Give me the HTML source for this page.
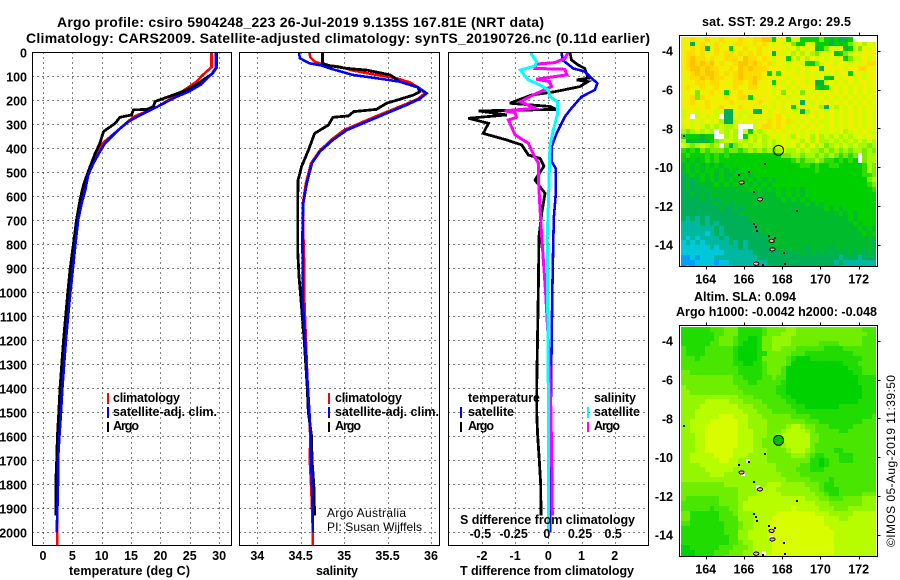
<!DOCTYPE html>
<html>
<head>
<meta charset="utf-8">
<title>Argo profile chart</title>
<style>
html,body{margin:0;padding:0;background:#fff;}
svg{display:block;font-family:"Liberation Sans",sans-serif;}
.b{font-weight:bold;font-size:12.5px;fill:#000;}
.t{font-weight:bold;font-size:14px;fill:#000;}
.r{font-weight:normal;font-size:12px;fill:#000;}
</style>
</head>
<body>
<svg id="chart" xmlns="http://www.w3.org/2000/svg" width="900" height="580" viewBox="0 0 900 580">
<defs>
<clipPath id="clipSst"><rect x="681" y="36.5" width="195" height="229.5"/></clipPath>
<clipPath id="clipAlt"><rect x="681" y="326.5" width="195" height="229.5"/></clipPath>
</defs>
<text class="t" x="57" y="27" textLength="487" lengthAdjust="spacing">Argo profile: csiro 5904248_223 26-Jul-2019 9.135S 167.81E (NRT data)</text>
<text class="t" x="26" y="43" textLength="624" lengthAdjust="spacing">Climatology: CARS2009. Satellite-adjusted climatology: synTS_20190726.nc (0.11d earlier)</text>

<g id="grids"></g>
<g id="marks"></g>
<g id="frames"></g>
<g id="labels"></g>

<text class="b" x="69" y="575" textLength="121" lengthAdjust="spacing">temperature (deg C)</text>
<text class="b" x="316" y="575" textLength="42" lengthAdjust="spacing">salinity</text>
<text class="b" x="460" y="575" textLength="174" lengthAdjust="spacing">T difference from climatology</text>
<text class="b" x="460" y="524" textLength="175" lengthAdjust="spacing">S difference from climatology</text>

<g>
<rect x="107" y="393" width="2" height="11" fill="#f00"/>
<rect x="107" y="407" width="2" height="11" fill="#00f"/>
<rect x="107" y="422" width="2" height="10" fill="#000"/>
<text class="b" x="113" y="402" textLength="67" lengthAdjust="spacing">climatology</text>
<text class="b" x="113" y="416" textLength="104" lengthAdjust="spacing">satellite-adj. clim.</text>
<text class="b" x="113" y="430" textLength="26" lengthAdjust="spacing">Argo</text>
</g>
<g>
<rect x="328" y="393" width="2" height="11" fill="#f00"/>
<rect x="328" y="407" width="2" height="11" fill="#00f"/>
<rect x="328" y="422" width="2" height="10" fill="#000"/>
<text class="b" x="335" y="402" textLength="67" lengthAdjust="spacing">climatology</text>
<text class="b" x="335" y="416" textLength="104" lengthAdjust="spacing">satellite-adj. clim.</text>
<text class="b" x="335" y="430" textLength="26" lengthAdjust="spacing">Argo</text>
<text class="r" x="327" y="517" textLength="79" lengthAdjust="spacing">Argo Australia</text>
<text class="r" x="327" y="531" textLength="95" lengthAdjust="spacing">PI: Susan Wijffels</text>
</g>
<g>
<text class="b" x="468" y="402" textLength="72" lengthAdjust="spacing">temperature</text>
<rect x="460" y="407" width="2" height="11" fill="#00f"/>
<text class="b" x="468" y="416" textLength="46" lengthAdjust="spacing">satellite</text>
<rect x="460" y="422" width="2" height="10" fill="#000"/>
<text class="b" x="468" y="430" textLength="26" lengthAdjust="spacing">Argo</text>
<text class="b" x="594" y="402" textLength="42" lengthAdjust="spacing">salinity</text>
<rect x="587" y="407" width="2" height="11" fill="#0ff"/>
<text class="b" x="594" y="416" textLength="46" lengthAdjust="spacing">satellite</text>
<rect x="587" y="422" width="2" height="10" fill="#f0f"/>
<text class="b" x="594" y="430" textLength="26" lengthAdjust="spacing">Argo</text>
</g>

<g id="sstMap" clip-path="url(#clipSst)"></g>
<g id="altMap" clip-path="url(#clipAlt)"></g>
<g id="mapFrames"></g>
<text class="b" x="702" y="26" textLength="149" lengthAdjust="spacing">sat. SST: 29.2 Argo: 29.5</text>
<text class="b" x="694" y="301" textLength="102" lengthAdjust="spacing">Altim. SLA: 0.094</text>
<text class="b" x="676" y="316" textLength="201" lengthAdjust="spacing">Argo h1000: -0.0042 h2000: -0.048</text>
<text class="r" transform="translate(895,547) rotate(-90)" textLength="172" lengthAdjust="spacing">©IMOS 05-Aug-2019 11:39:50</text>
</svg>
<script>
/* ---- profile data ---- */
const depthTicks = [0,100,200,300,400,500,600,700,800,900,1000,1100,1200,1300,1400,1500,1600,1700,1800,1900,2000];
const tempTicks = [0,5,10,15,20,25,30];
const salTicks = [34,34.5,35,35.5,36];
const salTickLabels = ['34','34.5','35','35.5','36'];
const tDiffTicks = [-2,-1,0,1,2];
const sDiffTicks = [-0.5,-0.25,0,0.25,0.5];
const sDiffTickLabels = ['-0.5','-0.25','0','0.25','0.5'];

const tempClimDepth = [0,62,99,122,150,178,228,269,318,378,414,462,520,574,629,698,781,879,1000,1200,1400,1500,1700,1800,2000,2054];
const tempClimVal = [28.7,28.7,27,26.2,24.5,22.8,19.4,15.4,13.1,10.2,9.5,8.5,7.6,7.1,6.5,5.95,5.5,5.1,4.6,3.85,3.2,3,2.55,2.5,2.4,2.4];
const tempSatDepth = [0,67,90,136,164,185,206,228,248,269,290,318,351,378,414,462,510,574,629,698,781,879,990,1200,1400,1500,1600,1700,1800,1900,2000];
const tempSatVal = [29.4,29.4,28.75,26.8,24.8,22.8,21.1,19.4,17.7,16,14.5,13.1,11.7,10.6,9.7,8.6,7.7,7.2,6.6,6,5.6,5.2,4.7,3.9,3.3,3.07,2.8,2.56,2.55,2.45,2.33];
const tempArgoDepth = [0,62,90,130,157,178,205,226,238,240,261,271,296,330,379,421,497,553,615,699,796,907,1004,1200,1400,1500,1600,1700,1800,1929];
const tempArgoVal = [29.6,29.6,28.8,26.4,24.5,22.2,19.1,18.8,17.7,15.4,15.1,13.1,12.3,10.3,9.7,8.9,7.7,6.9,6.3,5.7,5.2,4.6,4.2,3.5,2.9,2.7,2.45,2.33,2.16,2.16];

const salClimDepth = [0,21,39,53,60,76,94,108,126,150,171,194,219,254,289,324,365,414,462,546,629,754,893,1018,1200,1400,1600,1700,1800,2000,2054];
const salClimVal = [34.6,34.61,34.66,34.78,34.95,35.1,35.37,35.6,35.76,35.87,35.93,35.85,35.69,35.45,35.22,35,34.85,34.71,34.62,34.56,34.525,34.53,34.54,34.54,34.56,34.58,34.61,34.605,34.62,34.64,34.64];
const salSatDepth = [0,25,46,55,71,94,108,122,146,171,194,219,254,289,324,365,414,462,546,629,754,893,1018,1200,1400,1500,1600,1700,1800,1900,2000];
const salSatVal = [34.48,34.49,34.6,34.74,34.87,35.1,35.37,35.64,35.85,35.95,35.87,35.72,35.49,35.26,35.03,34.87,34.72,34.63,34.57,34.53,34.52,34.522,34.522,34.55,34.583,34.6,34.615,34.62,34.63,34.637,34.637];
const salArgoDepth = [0,46,55,67,74,94,122,146,164,178,196,212,238,247,265,271,303,338,407,476,532,615,824,935,1018,1200,1400,1500,1600,1700,1800,1930];
const salArgoVal = [34.75,34.75,34.82,35.03,35.26,35.53,35.64,35.85,35.87,35.8,35.64,35.49,35.37,35.11,35.05,34.87,34.82,34.66,34.59,34.51,34.47,34.465,34.465,34.48,34.5,34.54,34.576,34.587,34.625,34.63,34.65,34.66];

const tDiffSatDepth = [0,32,67,80,108,129,157,185,233,268,338,393,456,483,601,685,782,1000,1400,2000];
const tDiffSatVal = [0.4,0.43,0.75,1.1,1.3,1.48,1.4,1,0.7,0.5,0.25,0.1,0.1,0.22,0.22,0.17,0.15,0.12,0.08,0.06];
const tDiffArgoDepth = [0,32,53,67,88,108,115,122,143,164,178,212,226,238,244,261,275,296,338,365,386,428,442,474,532,588,671,768,1000,1400,1500,1600,1700,1800,1930];
const tDiffArgoVal = [0.65,0.7,0.9,1.1,1.15,1.2,0.85,1.2,0.95,0.2,-0.5,-1.16,0.05,0.25,-2.1,-1.25,-2.41,-1.8,-1.96,-1.26,-0.8,-0.6,-0.25,-0.13,-0.4,-0.1,-0.2,-0.28,-0.3,-0.35,-0.35,-0.32,-0.27,-0.23,-0.22];
const sDiffArgoDepth = [0,25,43,49,67,71,94,112,122,143,164,185,206,233,244,251,271,282,344,379,428,462,518,643,768,1000,1200,1500,1800,1930];
const sDiffArgoVal = [0.15,0.125,0.05,-0.09,-0.1,0.125,0.14,-0.09,0.01,0.025,-0.06,-0.14,-0.21,-0.1,-0.33,-0.25,-0.24,-0.3,-0.25,-0.15,-0.11,-0.075,-0.075,-0.063,-0.05,-0.02,0,0.02,0.028,0.03];
const sDiffSatDepth = [0,10,39,57,74,115,136,157,185,206,261,324,393,476,643,768,1000,1400,2000];
const sDiffSatVal = [-0.125,-0.125,-0.088,-0.1,-0.21,-0.15,-0.063,0,0.012,0.068,0.068,0.038,0.012,0.008,0,-0.008,-0.005,0,0];

/* ---- map data: colour-level per 0.25 degree cell, '.' = no data ---- */
const mapLonTicks = [164,166,168,170,172];
const mapLatTicks = [-4,-6,-8,-10,-12,-14];
const profileLon = [167.81];
const profileLat = [-9.135];
const sstLevelColors = ['#00a0f8','#00c8d8','#00b8a0','#00b058','#00bc2c','#00d000','#30dc00','#78ec00','#a8f800','#d0fc00','#f0f000','#ffdc00','#ffc400'];
const altLevelColors = ['#00c800','#00d200','#20dc00','#48e600','#70ee00','#94f600','#b8fc00','#d8fc00'];
const sstRows = [
"aabaabaabaaabaabbcc5aa5a955557545345.....",
"aa3abaabaaabbaababa9a9a755a9555354579a8a9",
"aabab3abaa5aabaabaaaaa9a8a9a457a9a4597a9a",
"abbabaababbab9babaa3a9a8a8a87a9a4579a9aaa",
"abcbbabaabbbacbbaba9aa5a8a8a9a9a9a5799a9a",
"abcbcbcabaabccbcbab9aa9aa95579aa9aa9a9abb",
"abccbcbbaabacbcbbbaaaa9a9a9aa3aaaa9aabbaa",
"aabcbccbababcbbbba5a6aaa9a9a9a9a9aa5aa9aa",
"aabbcbcbbaabcbbcbaaaaa9aaa9a9a54a9aa9a9aa",
"aaabbabbaaabbabcaaa5a9a9aa9a349a9a9a9aa9a",
"abaabaabaaabaabbaaa9aa9a9aaa5459a9a9a9a9a",
"aaa7aabaa5aabaaaaaa9a7a9a7a9a9a9a9a9a9a9a",
"aab7baaaabaabb5aaaaa9a9a9a9a9a9a9a9a9a9a9",
"aabaabaaaabaaaaabaa9a9a9a3a9a9a9a9a9a9a9a",
"aaaaabaabaaabaa9a9a9a9a59aa9a83a8a9a9a9a9",
"9aa9aaa9a33a99a33a9aa9a9938a9a9a9a9a9a9a9",
"9a.9a9a9.33a9a9a9a9aba9a9a9a9a9a9a9a9a9a9",
"aa9a9a9a8339a9a9aababab9a9a9a99a9a9a9a9a9",
"9a9a98989889...9abbaba9a9a9a9a9a9a9a9a9a9",
"8789898.9898.95989a9a9a9a9a9a99a9a89a9a99",
"6555455..898.598989a9a98a9a8a89898989a9a9",
"8344345789989898a8989a9a98a8a889898989898",
"98789878.737898998989a9a8a8a89789898988788",
"65657677767767878787898898988787878788787",
"5655565656555555555557788788787876767.788",
"5454565655555555555555567677876656565.788",
"45454545455555555555555556656556655555687",
"45454554545455555555555555556555555555687",
"34545454544545455555555555555555555555667",
"34345454545454545454555555555555555555578",
"34344445454545454545555555555555555555567",
"34343444444444545454545454555555555555556",
"33434344444444444444545454555555555555555",
"33334343444444444444454545455555555555555",
"33333334343444444444444444545455555555555",
"33333333433434444444444444444454545555555",
"33333333333344444444444444444444454545555",
"32323233333333444444444444444444444545555",
"22223232333333344444444444444444444454555",
"22222223233333334444444444444444444445454",
"22222123233333333444444444444444444444545",
"21212222323333333344444444444444444444444",
"12121222223232333344444444444444444444443",
"11111121222232333334444444344443444444444",
"11111111122222233333343434343434343434343",
"00101112222222223333333333333333323332333",
"00011110112222222233333333333333232222222",
"01011111111222222223333333333333322222222"
];
const altRows = [
"22222233344422222344445544444444444444333",
"22222223344422222344455544444444444444433",
"22222223444322112445555444444444444444333",
"22222233444321112445555444444333344444333",
"32222333333211112445544433333322223333333",
"32222333333211112244444333222222222233333",
"33323333333211112444443211122222222222333",
"33333333333221122344443111111111112223333",
"33333333333322222344431111111111111222333",
"44333333333322222344431111111111111122333",
"44444444444332222334331111111111111112222",
"44444444444333223333321111111111111112222",
"54444444444433333333221111111111111111222",
"55444444444443333333221111111111111111222",
"55555555555544433333322111111111111111222",
"55555666665554444333332211111111111112222",
"55556666666655544433333222111111122222222",
"55566666666665554443333322222222222222222",
"55566666777666555444444333322222222222223",
"55666677777766555544444444333222222222333",
"55666777777766555544445665443332222233333",
"55666777777766655544456666543333322333333",
"55566777777766655544566666644333333333333",
"55566777777766655444566666644333333333333",
"55566777777766655444456666643333333333333",
"55566777777666655544445666543333223333333",
"55666667777666555544444555432233322233333",
"55666666776655555544444444422123322233333",
"55556666666655555555444443322123333333333",
"55555666666555555555444433322233333333333",
"55555566655555555555544443333333333333333",
"55555555555555555555554444433332333333333",
"44444444455555555566655555444322333333333",
"44444444444455555666555555544322233333333",
"44444444444455556666655555554432233333444",
"43333333444455666666666666555443334444555",
"33333333444456666666666666665554444444555",
"33333323334456666666666766666555444555555",
"44222222333455566666777777776665555566666",
"44222222333355566667777777777766655666666",
"33222222233345566677777777777766666666666",
"22222222233345566677777777777776666666666",
"22222222233355666677777777777777666666666",
"22222222223355666677777777777777666666666",
"22222222223345566667777777777777666666666",
"11222222333444566667777777777777666666666",
"11122223334445566667777777777777666666666",
"11122223344445566677777777777776666666666"
];
const islandLon = [165.88,166.84,167.45,167.49,166.64];
const islandLat = [-10.79,-11.66,-13.8,-14.24,-14.98];
const reefLon = [167.1,166.27,166.5,165.75,168.8,168.1,168.14,162.87,167.63,167.3,166.55,166.62,166.7,167.02];
const reefLat = [-9.84,-10.27,-11.28,-10.41,-12.28,-14.41,-15,-8.4,-13.67,-13.53,-12.95,-13.1,-13.3,-15.05];
const altGapLon = [166.22,165.95,166.75,167.4,167.05];
const altGapLat = [-10.2,-10.85,-11.55,-14.15,-14.95];

/* ---- axis functions ---- */
const NS = 'http://www.w3.org/2000/svg';
const yDepth = d => 52.3 + 0.24 * d;
const xTemp = v => 43 + 5.87 * v;
const xSal = v => 257.3 + 86.85 * (v - 34);
const xTDiff = v => 548.3 + 33.2 * v;
const xSDiff = v => 548.3 + 132.8 * v;
const xLon = v => 705.7 + 19.12 * (v - 164);
const ySstLat = v => 50.7 - 19.4 * (v + 4);
const yAltLat = v => 340.7 - 19.4 * (v + 4);
const MAP_LON0 = 162.7, MAP_LAT0 = -3.28, CELL = 0.25;

function mk(tag, parent) { const e = document.createElementNS(NS, tag); document.getElementById(parent).appendChild(e); return e; }
function setA(e, o) { for (const k in o) e.setAttribute(k, o[k]); return e; }

/* ---- panels: grids ---- */
const panels = [
  {l:32.5, r:231.5, x:xTemp, ticks:tempTicks},
  {l:239.5, r:439.5, x:xSal, ticks:salTicks},
  {l:448.5, r:648.5, x:xTDiff, ticks:tDiffTicks}
];
const TOP = 52.5, BOT = 545.5;
panels.forEach(p => {
  depthTicks.slice(1).forEach(d => {
    const g = setA(mk('line','grids'), {x1:p.l, x2:p.r, y1:Math.round(yDepth(d))+0.5, y2:Math.round(yDepth(d))+0.5, stroke:'#000','stroke-width':1,'stroke-dasharray':'1 4','shape-rendering':'crispEdges'});
    
    
  });
  p.ticks.forEach(v => {
    const g = setA(mk('line','grids'), {x1:Math.round(p.x(v))+0.5, x2:Math.round(p.x(v))+0.5, y1:TOP, y2:BOT, stroke:'#000','stroke-width':1,'stroke-dasharray':'1 4','shape-rendering':'crispEdges'});
    
    
  });
  const f = setA(mk('rect','frames'), {x:p.l, y:TOP, width:p.r-p.l, height:BOT-TOP, fill:'none', stroke:'#000','stroke-width':1,'shape-rendering':'crispEdges'});
  
  
});

/* ---- profile lines ---- */
function profile(depths, vals, xf, color, w) {
  const pts = depths.map((d,i) => xf(vals[i]).toFixed(1)+','+yDepth(d).toFixed(1)).join(' ');
  const l = setA(mk('polyline','marks'), {points:pts, fill:'none', stroke:color, 'stroke-width':w, 'shape-rendering':'crispEdges','stroke-linejoin':'miter'});
  return l;
}
let ln;
ln = profile(tempClimDepth,tempClimVal,xTemp,'#f00',2.6);


ln = profile(tempArgoDepth,tempArgoVal,xTemp,'#000',2.8);


ln = profile(tempSatDepth,tempSatVal,xTemp,'#00f',2.6);


ln = profile(salClimDepth,salClimVal,xSal,'#f00',2.6);


ln = profile(salArgoDepth,salArgoVal,xSal,'#000',2.8);


ln = profile(salSatDepth,salSatVal,xSal,'#00f',2.6);


ln = profile(tDiffArgoDepth,tDiffArgoVal,xTDiff,'#000',2.8);


ln = profile(tDiffSatDepth,tDiffSatVal,xTDiff,'#00f',2.6);


ln = profile(sDiffArgoDepth,sDiffArgoVal,xSDiff,'#f0f',3);


ln = profile(sDiffSatDepth,sDiffSatVal,xSDiff,'#0ff',3);



/* ---- tick labels ---- */
function label(parent, x, y, txt, anchor) {
  const t = setA(mk('text',parent), {x:x, y:y, class:'b', 'text-anchor':anchor||'middle'});
  t.textContent = txt;
  return t;
}
depthTicks.forEach(d => {
  const t = label('labels', 27, yDepth(d)+5, String(d), 'end');
  
  
});
tempTicks.forEach(v => {
  const t = label('labels', xTemp(v), 560, String(v));
  
  
});
salTicks.forEach((v,i) => {
  const t = label('labels', xSal(v), 560, salTickLabels[i]);
  
  
});
tDiffTicks.forEach(v => {
  const t = label('labels', xTDiff(v), 560, String(v));
  
  
});
sDiffTicks.forEach((v,i) => {
  const t = label('labels', xSDiff(v)-1.5, 538, sDiffTickLabels[i]);
  
  
});

/* ---- maps ---- */
function drawHeat(groupId, rows, colors, yLat) {
  rows.forEach((row, r) => {
    for (let c = 0; c < 41; c++) {
      const ch = row[c];
      if (ch === '.' || ch === undefined) continue;
      const lvl = parseInt(ch, 16);
      const x0 = Math.round(xLon(MAP_LON0 + c*CELL)), x1 = Math.round(xLon(MAP_LON0 + (c+1)*CELL));
      const y0 = Math.round(yLat(MAP_LAT0 - r*CELL)), y1 = Math.round(yLat(MAP_LAT0 - (r+1)*CELL));
      const cell = setA(mk('rect',groupId), {x:x0, y:y0, width:x1-x0, height:y1-y0, fill:colors[lvl], 'shape-rendering':'crispEdges'});
      
      
    }
  });
}
drawHeat('sstMap', sstRows, sstLevelColors, ySstLat);
drawHeat('altMap', altRows, altLevelColors, yAltLat);

altGapLon.forEach((lon,i) => {
  const g = setA(mk('rect','altMap'), {x:Math.round(xLon(lon))-2, y:Math.round(yAltLat(altGapLat[i]))-2, width:4, height:4, fill:'#fff','shape-rendering':'crispEdges'});
  
  
});

function drawIslands(groupId, yLat) {
  islandLon.forEach((lon,i) => {
    const e = setA(mk('ellipse',groupId), {cx:xLon(lon), cy:yLat(islandLat[i]), rx:2.6, ry:1.6, fill:'#f0b890', stroke:'#000','stroke-width':1,'shape-rendering':'crispEdges'});
    
    
  });
  reefLon.forEach((lon,i) => {
    const e = setA(mk('rect',groupId), {x:Math.round(xLon(lon))-1, y:Math.round(yLat(reefLat[i]))-1, width:2, height:2, fill:'#000','shape-rendering':'crispEdges'});
    
    
  });
}
drawIslands('sstMap', ySstLat);
drawIslands('altMap', yAltLat);

let circ = setA(mk('circle','sstMap'), {cx:xLon(profileLon[0]), cy:ySstLat(profileLat[0]), r:5, fill:'none', stroke:'#000','stroke-width':1});


circ = setA(mk('circle','altMap'), {cx:xLon(profileLon[0]), cy:yAltLat(profileLat[0]), r:5, fill:'#00c000', stroke:'#000','stroke-width':1});



[[ySstLat,35.5,266.5],[yAltLat,325.5,556.5]].forEach(m => {
  const f = setA(mk('rect','mapFrames'), {x:679.5, y:m[1], width:198, height:m[2]-m[1], fill:'none', stroke:'#000','stroke-width':1,'shape-rendering':'crispEdges'});
  
  
  mapLonTicks.forEach(lon => {
    const x = Math.round(xLon(lon))+0.5;
    const t1 = setA(mk('line','mapFrames'), {x1:x,x2:x,y1:m[1]-3,y2:m[1],stroke:'#000','shape-rendering':'crispEdges'});
    
    
    const t2 = setA(mk('line','mapFrames'), {x1:x,x2:x,y1:m[2],y2:m[2]+3,stroke:'#000','shape-rendering':'crispEdges'});
    
    
    const lb = label('mapFrames', xLon(lon), m[2]+17, String(lon));
    
    
  });
  mapLatTicks.forEach(lat => {
    const y = Math.round(m[0](lat))+0.5;
    const t = setA(mk('line','mapFrames'), {x1:877.5,x2:880.5,y1:y,y2:y,stroke:'#000','shape-rendering':'crispEdges'});
    
    
    const lb = label('mapFrames', 673, m[0](lat)+5, String(lat), 'end');
    
    
  });
});
</script>
</body>
</html>
